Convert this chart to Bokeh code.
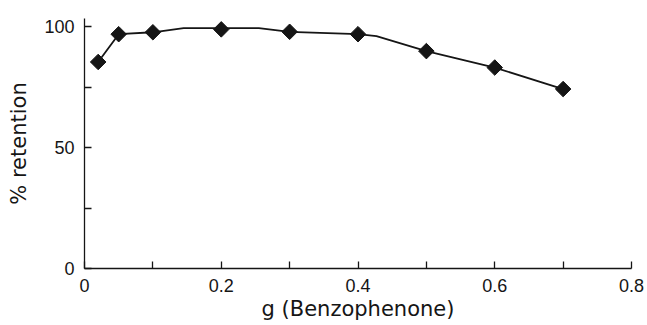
import math
from bokeh.plotting import figure
from bokeh.models import Range1d, FixedTicker
from bokeh.embed import file_html
from bokeh.resources import INLINE

# data
mass_g = [0.02, 0.05, 0.1, 0.2, 0.3, 0.4, 0.5, 0.6, 0.7]
retention = [85.5, 97.0, 97.8, 99.0, 98.0, 97.0, 90.0, 83.2, 74.3]

# hand-drawn smooth curve through the points
curve_x = [0.02, 0.05, 0.1, 0.145, 0.255, 0.3, 0.4, 0.427, 0.5, 0.6, 0.7]
curve_y = [85.5, 97.0, 97.8, 99.5, 99.5, 98.0, 97.0, 96.2, 90.0, 83.2, 74.3]

x_major = [0, 0.2, 0.4, 0.6, 0.8]
x_minor = [0.1, 0.3, 0.5, 0.7]
y_major = [0, 50, 100]
y_minor = [25, 75]

TICK_FONT = "Liberation Sans"
LABEL_FONT = "DejaVu Sans"
INK = "#151515"

p = figure(width=647, height=325, frame_width=547, frame_height=250,
           output_backend="svg", toolbar_location=None,
           x_range=Range1d(0, 0.8), y_range=Range1d(0, 103.5),
           min_border_left=84, min_border_right=16, min_border_top=18,
           min_border_bottom=57)
p.outline_line_color = None
p.grid.grid_line_color = None
p.background_fill_color = "white"
p.border_fill_color = "white"

p.line(curve_x, curve_y, line_color=INK, line_width=1.8)
p.scatter(mass_g, retention, marker="square", size=11, angle=math.pi / 4,
          fill_color=INK, line_color=INK)

xa = p.xaxis[0]
xa.ticker = FixedTicker(ticks=x_major, minor_ticks=x_minor)
xa.major_label_overrides = {0: "0"}
xa.axis_label = "g (Benzophenone)"
ya = p.yaxis[0]
ya.ticker = FixedTicker(ticks=y_major, minor_ticks=y_minor)
ya.axis_label = "% retention"

for ax in (xa, ya):
    ax.axis_line_color = INK
    ax.axis_line_width = 1.3
    ax.major_tick_in = 7
    ax.major_tick_out = 0
    ax.minor_tick_in = 7
    ax.minor_tick_out = 0
    ax.major_tick_line_color = INK
    ax.minor_tick_line_color = INK
    ax.major_tick_line_width = 1.3
    ax.minor_tick_line_width = 1.3
    ax.major_label_text_font = TICK_FONT
    ax.major_label_text_font_size = "18px"
    ax.major_label_text_color = INK
    ax.axis_label_text_font = LABEL_FONT
    ax.axis_label_text_font_style = "normal"
    ax.axis_label_text_color = INK

xa.axis_label_text_font_size = "21px"
ya.axis_label_text_font_size = "21px"
xa.major_label_standoff = 10
xa.axis_label_standoff = 2
ya.major_label_standoff = 10
ya.major_label_orientation = "horizontal"
ya.axis_label_standoff = 10

open("out.html", "w").write(file_html(p, INLINE))
